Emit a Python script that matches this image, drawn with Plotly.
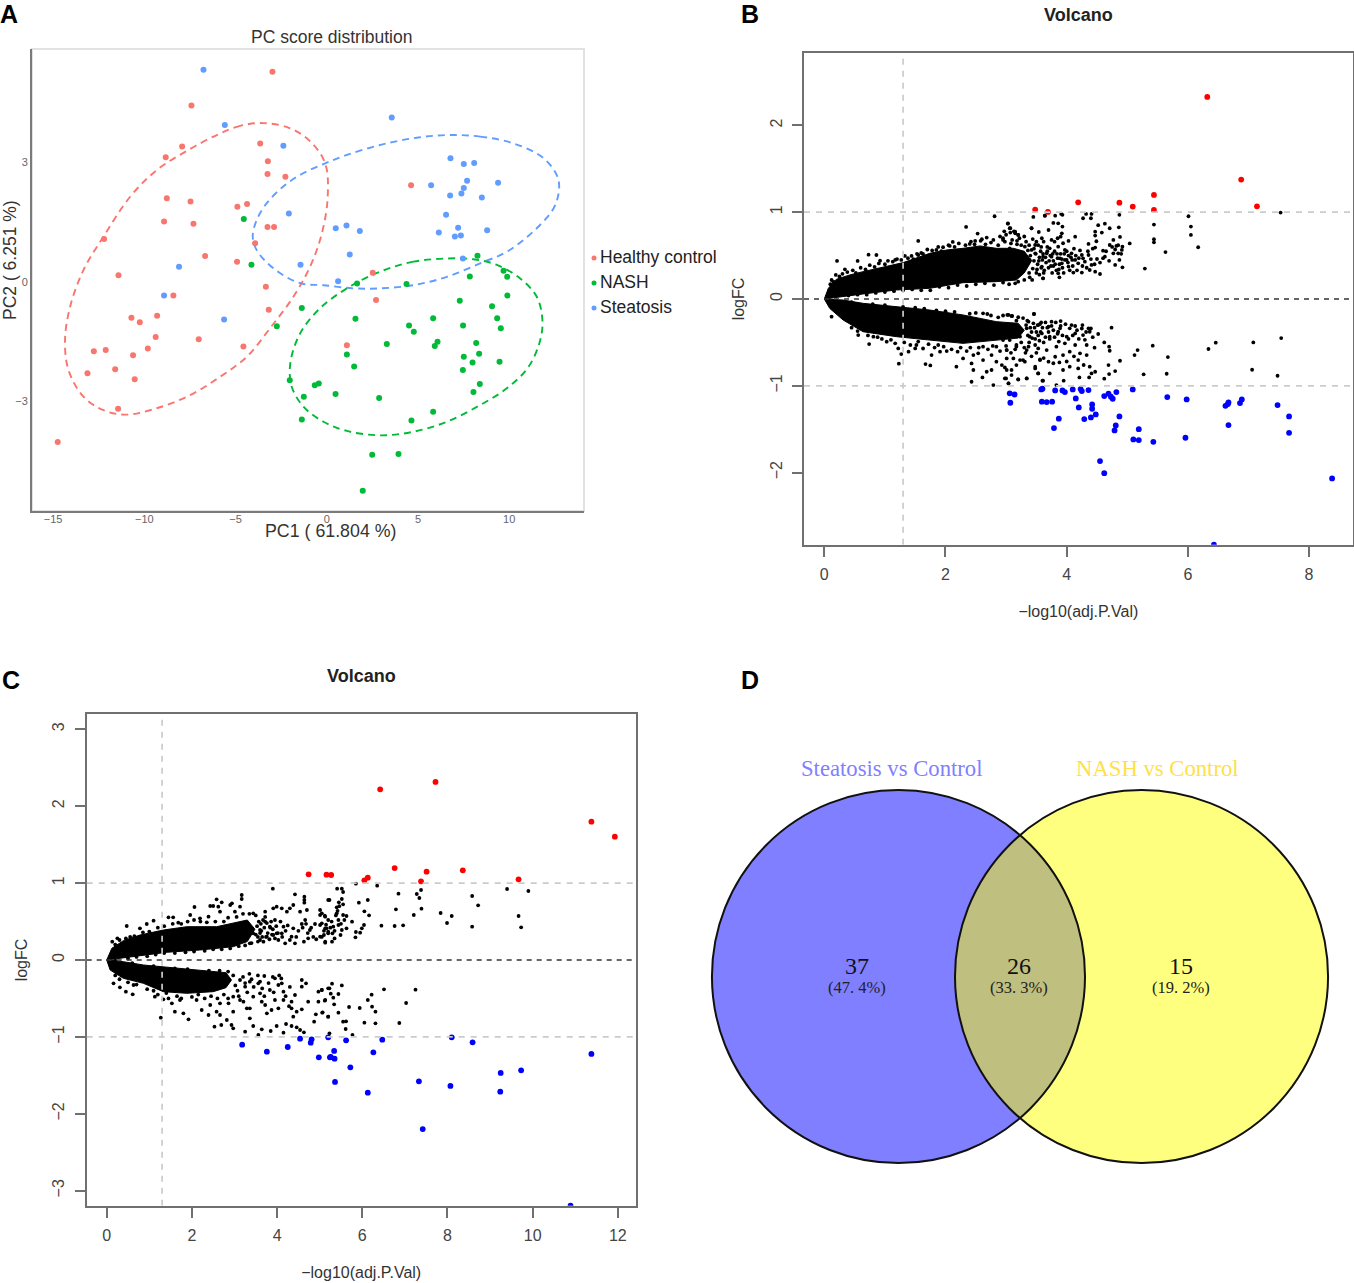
import plotly.graph_objects as go

W, H = 1354, 1283

# ---------- Panel A: PCA scores ----------
hc_x = [-2.98,-7.42,-7.93,-8.83,-3.65,-3.23,-3.25,-2.27,-8.77,-7.47,-8.92,-7.31,-4.90,-4.37,-3.25,-2.89,-3.93,-12.21,-6.67,-4.92,-11.42,-3.34,-8.41,-3.18,-9.30,-10.71,-10.25,-9.38,-7.02,-9.81,-4.57,-12.77,-12.12,-10.62,-11.60,-13.12,-10.53,-11.44,-14.75,4.62,2.52,2.70,1.10]
hc_y = [5.28,4.43,3.40,3.13,3.48,3.03,2.71,2.64,2.10,2.02,1.52,1.46,1.89,1.96,1.38,1.38,0.97,1.08,0.65,0.51,0.17,-0.12,-0.34,-0.70,-0.85,-0.90,-1.01,-1.38,-1.44,-1.67,-1.62,-1.74,-1.71,-1.84,-2.19,-2.29,-2.44,-3.18,-4.02,2.43,0.23,-0.45,-1.59]
nash_x = [-4.55,-4.13,-1.37,-2.74,-2.03,-1.26,-1.37,-0.66,-0.44,0.48,8.26,9.69,7.84,9.89,4.37,1.66,9.90,7.29,9.06,5.83,1.57,9.34,4.51,7.47,9.54,4.77,3.29,6.07,5.92,8.19,8.35,7.51,7.99,9.47,1.10,1.50,7.46,8.39,8.04,2.87,5.83,4.64,2.49,3.93,1.97]
nash_y = [1.58,0.43,-0.65,-1.11,-2.47,-2.88,-3.45,-2.59,-2.55,-2.81,0.66,0.28,0.14,0.13,-0.05,-0.04,-0.34,-0.47,-0.61,-0.91,-0.92,-0.91,-1.09,-1.09,-1.16,-1.25,-1.56,-1.50,-1.61,-1.53,-1.80,-1.88,-2.02,-2.00,-1.82,-2.12,-2.21,-2.56,-2.76,-2.91,-3.26,-3.48,-4.34,-4.32,-5.24]
ste_x = [-6.76,-5.59,-2.38,-2.08,0.49,-1.44,-8.10,-8.92,-5.63,0.62,3.56,6.78,7.51,8.08,7.69,9.39,5.72,7.51,7.38,6.76,8.50,6.54,1.08,1.81,7.20,8.79,6.14,7.02,7.35,1.26,7.46]
ste_y = [5.33,3.94,3.42,1.72,1.35,0.43,0.38,-0.34,-0.94,0.02,4.13,3.11,2.96,2.99,2.54,2.49,2.43,2.36,2.22,2.17,2.12,1.69,1.42,1.28,1.36,1.30,1.24,1.14,1.17,0.69,0.59]

hc_ell_x = [-3.47,-4.75,-6.03,-7.68,-9.32,-10.78,-12.24,-13.34,-14.07,-14.35,-14.16,-13.34,-12.24,-10.96,-9.32,-7.49,-5.85,-4.39,-3.11,-1.83,-0.91,-0.27,0.05,-0.09,-0.91,-2.01,-3.47]
hc_ell_y = [3.99,3.92,3.69,3.29,2.81,2.14,1.14,0.30,-0.62,-1.46,-2.21,-2.88,-3.22,-3.33,-3.17,-2.84,-2.38,-1.88,-1.16,-0.37,0.39,1.22,2.14,2.98,3.53,3.86,3.99]
ste_ell_x = [6.58,8.41,10.23,11.88,12.70,12.52,11.51,9.87,8.41,6.58,4.75,2.92,1.46,-0.18,-1.46,-2.92,-3.84,-4.06,-3.84,-3.29,-2.38,-1.46,-0.18,1.10,2.92,4.75,6.58]
ste_ell_y = [3.69,3.65,3.48,3.11,2.56,1.93,1.35,0.76,0.47,0.13,-0.08,-0.16,-0.16,-0.08,-0.03,0.34,0.80,1.14,1.56,1.98,2.40,2.69,2.96,3.19,3.44,3.61,3.69]
nash_ell_x = [6.58,4.75,2.92,1.10,-0.37,-1.46,-2.00,-1.92,-1.28,-0.18,1.10,2.92,4.75,6.58,8.41,9.87,11.06,11.70,11.82,11.51,10.60,9.32,8.04,6.58]
nash_ell_y = [0.59,0.51,0.26,-0.16,-0.66,-1.29,-2.04,-2.63,-3.13,-3.51,-3.74,-3.85,-3.76,-3.51,-3.09,-2.67,-2.13,-1.46,-0.95,-0.37,0.09,0.43,0.57,0.59]

pca_xticks = [-15,-10,-5,0,5,10]
pca_yticks = [-3,0,3]
group_names = ["Healthy control","NASH","Steatosis"]

# ---------- Panel B: volcano ----------
b_up_x = [0,.066,.20,.42,.64,.92,1.30,1.74,2.02,2.29,2.57,2.84,3.12,3.30,3.42,3.30,3.17,2.84,2.29,1.74,1.19,.64,.31,0]
b_up_y = [0,.123,.227,.277,.315,.361,.419,.526,.565,.584,.611,.584,.584,.55,.44,.30,.219,.20,.188,.123,.104,.058,.027,0]
b_dn_x = [0,.31,.64,1.19,1.74,2.29,2.84,3.20,3.30,3.20,2.84,2.29,1.74,1.19,.64,.31,.09,0]
b_dn_y = [0,-.012,-.05,-.088,-.127,-.184,-.261,-.28,-.36,-.45,-.473,-.511,-.473,-.434,-.377,-.242,-.108,0]
b_black_x = [3.45,3.64,3.81,3.91,3.93,4.32,4.27,4.41,4.40,4.87,4.86,4.88,5.04,5.44,5.44,5.44,5.63,5.29,6.01,6.05,6.05,6.17,7.53,3.03,3.42,3.54,3.70,3.78,3.86,3.93,3.92,3.90,3.06,3.07,3.15,3.20,3.22,3.59,3.75,4.03,4.14,4.52,4.63,4.71,4.47,4.47,4.58,4.49,4.77,4.36,4.71,4.82,4.92,4.47,4.60,4.77,4.85,4.91,4.63,4.50,4.87,4.80,4.92,4.41,4.38,4.55,4.47,4.25,4.11,3.86,3.88,3.61,3.15,3.39,3.59,3.78,3.92,4.00,4.08,4.27,4.19,3.97,3.86,3.72,3.61,3.48,3.67,3.75,3.94,4.25,4.36,4.14,3.89,4.03,3.48,3.39,3.28,3.17,3.06,2.95,2.98,3.31,3.42,
 2.81,3.42,3.64,2.34,3.03,3.07,3.15,3.20,2.53,2.68,1.55,2.12,2.49,2.40,2.60,2.79,2.95,.73,.86,.55,.21,.34,.19,.12,1.33,1.44,1.55,1.63,.92,1.17,1.85,1.96,2.07,3.61,
 .12,.56,.74,.81,1.03,1.22,1.27,1.23,1.39,1.50,1.52,1.67,1.75,1.77,1.91,1.97,2.18,2.20,2.29,2.43,2.46,2.43,2.54,2.62,2.61,2.68,2.76,2.79,2.84,2.93,3.01,2.98,3.04,3.09,3.20,3.34,3.48,3.53,3.61,3.17,3.28,3.12,3.01,2.76,2.46,2.62,2.84,3.01,3.17,3.34,3.48,3.56,3.46,3.04,3.10,2.62,2.69,2.87,3.17,3.37,3.56,
 3.02,3.09,3.46,3.75,3.90,4.14,4.26,4.36,4.52,4.74,4.62,4.70,4.71,4.46,5.17,5.12,5.42,5.67,5.27,5.65,6.34,6.46,7.08,7.06,7.54,7.48,4.88,4.80,4.69,4.70,4.62,4.47,4.38,4.41,4.37,4.21,4.19,4.19,4.33,4.05,3.94,3.95,3.83,3.60,3.72,3.48,3.53,3.34,3.20,3.00,3.04,3.09,2.98,3.23,3.31,3.56,3.70,3.81,3.94,4.05,4.22,4.33,4.14,3.97,3.83,3.67,3.53,3.37,3.17,3.01,2.95,3.06,3.23,3.39,3.59,3.72,3.86,4.00,4.14,4.27,4.38,3.12,3.34,3.53,3.70,3.89,4.05]
b_black_y = [.945,.96,.96,.98,.97,.98,.93,.98,.93,.97,.826,.715,.64,.857,.688,.653,.54,.35,.953,.834,.738,.596,.995,.868,.815,.772,.795,.876,.872,.834,.757,.718,.815,.765,.776,.738,.70,.70,.68,.669,.718,.85,.868,.815,.776,.73,.765,.665,.68,.634,.622,.611,.603,.592,.557,.526,.526,.565,.488,.461,.45,.392,.365,.392,.334,.288,.315,.304,.304,.296,.25,.238,.18,.25,.373,.38,.411,.45,.526,.469,.411,.565,.603,.584,.488,.622,.526,.488,.642,.507,.507,.45,.469,.373,.526,.45,.411,.488,.584,.68,.526,.603,.565,
 .953,.815,.96,.83,.872,.815,.757,.738,.753,.707,.669,.657,.669,.634,.688,.68,.70,.511,.507,.438,.438,.342,.277,.219,.496,.496,.507,.519,.442,.45,.565,.596,.611,.238,
 -.204,-.415,-.519,-.434,-.492,-.569,-.634,-.745,-.607,-.569,-.53,-.749,-.765,-.646,-.607,-.549,-.78,-.607,-.684,-.953,-.818,-.742,-.626,-.703,-.903,-.838,-.818,-.991,-.722,-.761,-.818,-.915,-.972,-.876,-.926,-.915,-.78,-.857,-.941,-.761,-.703,-.684,-.684,-.646,-.646,-.549,-.549,-.588,-.53,-.588,-.53,-.703,-.173,-.184,-.196,-.165,-.173,-.211,-.25,-.261,-.288,
 -.184,-.196,-.173,-.261,-.254,-.311,-.30,-.338,-.403,-.33,-.50,-.549,-.596,-.561,-.588,-.646,-.538,-.669,-.868,-.861,-.576,-.503,-.50,-.815,-.45,-.884,-.711,-.83,-.761,-.865,-.918,-.838,-.78,-.857,-.903,-.903,-.80,-.703,-.646,-.78,-.818,-.941,-.991,-.941,-.857,-.80,-.857,-.915,-.926,-.915,-.972,-.818,-.788,-.703,-.722,-.696,-.722,-.665,-.646,-.607,-.626,-.53,-.53,-.511,-.549,-.588,-.569,-.549,-.549,-.588,-.473,-.473,-.434,-.434,-.396,-.434,-.377,-.434,-.396,-.415,-.377,-.319,-.338,-.30,-.319,-.338,-.338]
b_fringe = [(.1,.17),(.15,.2),(.25,.26),(.3,.29),(.38,.31),(.47,.33),(.52,.30),(.6,.36),(.68,.34),(.75,.39),(.83,.37),(.9,.41),(1.0,.40),(1.05,.44),(1.13,.43),(1.2,.46),(1.27,.45),(1.38,.47),(1.47,.46),(1.53,.52),(1.6,.53),(1.7,.57),(1.78,.56),(1.88,.60),(1.93,.55),(2.05,.62),(2.15,.60),(2.22,.64),(2.33,.62),(2.42,.66),(2.48,.63),(2.58,.67),(2.66,.63),(2.75,.65),(2.87,.62),(2.98,.66),(3.08,.64),(3.18,.63),
 (.4,.04),(.55,.05),(.7,.05),(.85,.07),(1.0,.08),(1.15,.09),(1.3,.10),(1.45,.11),(1.6,.10),(1.75,.10),(1.9,.14),(2.05,.13),(2.2,.16),(2.35,.15),(2.5,.17),(2.65,.18),(2.8,.16),(2.95,.19),(3.05,.17),(3.2,.2),(3.3,.22),(3.43,.22),(3.55,.28),(3.62,.30),
 (3.5,.3),(3.52,.4),(3.55,.48),(3.57,.55),(3.6,.45),(3.63,.33),(3.66,.42),(3.7,.36),(3.73,.5),(3.76,.3),(3.78,.44),(3.8,.55),(3.83,.33),(3.85,.47),(3.88,.4),(3.9,.52),(3.93,.36),(3.95,.3),(3.97,.45),(4.0,.55),(4.02,.42),(4.05,.33),(4.07,.48),(4.1,.38),(4.12,.58),(4.15,.5),(4.17,.33),(4.2,.47),(4.22,.56),(4.26,.38),(4.3,.43),(4.33,.36),(4.35,.55),(4.4,.46),(4.43,.58),(4.46,.40),(4.55,.42),(4.6,.47),(4.65,.55),(4.7,.44),(4.75,.6),(4.8,.57),(4.85,.62),(4.9,.52),
 (2.9,.72),(2.97,.78),(3.0,.74),(3.1,.68),(3.13,.78),(3.18,.67),(3.25,.62),(3.3,.72),(3.33,.66),(3.38,.62),(3.44,.69),(3.5,.66),(3.53,.62),(3.58,.6),(3.62,.66),(3.68,.6),(3.8,.66),(3.85,.7),(3.4,.5),(3.44,.35),(3.46,.58),(3.36,.56),(3.38,.30),
 (3.46,.44),(3.49,.52),(3.51,.34),(3.54,.44),(3.58,.36),(3.61,.52),(3.65,.48),(3.68,.55),(3.71,.44),(3.74,.38),(3.77,.52),(3.81,.4),(3.84,.52),(3.87,.34),(3.92,.46),(3.96,.52),(4.03,.5),(4.09,.45),
 (.2,-.02),(.45,-.035),(.8,-.06),(1.0,-.07),(1.3,-.09),(1.5,-.10),(1.65,-.11),(1.85,-.13),(2.0,-.14),(2.15,-.15),(2.4,-.17),(2.5,-.16),(2.75,-.19),(2.95,-.19),(3.2,-.21),(3.28,-.22),
 (.45,-.33),(.55,-.37),(.72,-.42),(.88,-.44),(.95,-.46),(1.1,-.47),(1.17,-.51),(1.32,-.50),(1.42,-.53),(1.55,-.49),(1.63,-.57),(1.72,-.52),(1.82,-.56),(1.88,-.53),(2.02,-.60),(2.1,-.58),(2.25,-.56),(2.35,-.60),(2.41,-.56),(2.55,-.56),(2.7,-.58),(2.78,-.54),(2.9,-.6),(3.0,-.54),(3.08,-.62),(3.15,-.58),(3.25,-.5),(3.3,-.56),
 (3.35,-.25),(3.4,-.33),(3.43,-.45),(3.45,-.28),(3.5,-.38),(3.55,-.48),(3.6,-.33),(3.65,-.27),(3.65,-.44),(3.7,-.38),(3.75,-.31),(3.8,-.44),(3.82,-.27),(3.87,-.49),(3.9,-.31),(3.93,-.42),(3.98,-.29),(4.03,-.46),(4.08,-.3),(4.1,-.42),(4.17,-.36),(4.2,-.46),(4.25,-.34),(4.3,-.47),(4.32,-.38),(4.4,-.34),(4.43,-.44),(3.32,-.62),(3.42,-.66),(3.5,-.62),(3.62,-.68),(3.78,-.74),(3.88,-.73),(4.0,-.72),(4.12,-.66),(4.28,-.76),
 (3.33,-.3),(3.36,-.42),(3.38,-.5),(3.42,-.38),(3.47,-.33),(3.48,-.46),(3.52,-.3),(3.53,-.42),(3.57,-.38),(3.58,-.27),(3.62,-.5),(3.68,-.33),(3.72,-.46),(3.78,-.36),(3.85,-.4)]
b_red_x = [3.48,3.69,4.19,4.87,5.09,5.44,5.44,6.32,6.88,7.14]
b_red_y = [1.03,1.003,1.114,1.11,1.064,1.199,1.026,2.328,1.376,1.068]
b_blue_x = [3.06,3.14,3.07,3.58,3.60,3.59,3.67,3.76,3.81,3.93,3.97,4.10,4.23,4.25,4.36,4.15,4.20,4.42,4.42,4.40,4.48,4.29,3.87,3.79,4.62,4.69,4.73,4.76,4.82,5.09,4.87,4.81,4.79,5.19,5.10,5.19,5.43,5.66,5.98,5.96,4.55,4.62,6.62,6.66,6.67,6.67,6.86,6.89,7.48,7.67,7.67,8.38,6.43]
b_blue_y = [-1.087,-1.10,-1.195,-1.041,-1.034,-1.183,-1.187,-1.183,-1.053,-1.053,-1.072,-1.041,-1.037,-1.061,-1.049,-1.145,-1.249,-1.214,-1.264,-1.364,-1.33,-1.383,-1.379,-1.487,-1.118,-1.091,-1.126,-1.149,-1.072,-1.041,-1.353,-1.456,-1.514,-1.499,-1.618,-1.625,-1.645,-1.13,-1.157,-1.598,-1.867,-2.006,-1.23,-1.21,-1.191,-1.452,-1.199,-1.157,-1.222,-1.353,-1.541,-2.067,-2.83]

# ---------- Panel C: volcano ----------
c_up_x = [0,.12,.39,.78,1.33,1.88,2.58,2.97,3.30,3.48,3.30,2.97,2.19,1.41,.78,.39,0]
c_up_y = [0,.152,.251,.325,.39,.433,.433,.477,.52,.40,.24,.173,.13,.10,.052,.022,0]
c_dn_x = [0,.39,.86,1.41,2.19,2.80,2.93,2.80,2.50,1.88,1.33,.86,.39,.08,0]
c_dn_y = [0,-.022,-.065,-.095,-.13,-.165,-.26,-.36,-.412,-.433,-.412,-.303,-.238,-.13,0]
c_black_x = [3.90,4.42,4.64,4.64,4.64,3.17,3.17,2.58,2.70,2.94,2.90,2.06,2.43,2.50,2.62,2.66,3.13,3.01,1.96,2.19,2.39,1.10,.94,.78,.47,.25,.13,1.45,1.56,1.68,5.20,5.01,5.05,5.13,3.99,3.91,4.11,4.23,4.38,4.30,4.54,4.70,3.72,3.44,4.66,4.58,4.38,4.34,4.77,4.89,5.01,5.13,5.20,4.63,4.73,5.13,5.20,4.19,4.03,3.91,3.76,3.60,3.83,3.95,4.15,4.11,3.72,3.60,3.44,3.36,4.42,3.68,3.99,
 5.85,6.35,5.41,5.52,5.55,6.85,7.28,7.38,7.34,7.39,7.21,6.13,5.92,5.23,5.52,5.45,5.55,5.40,6.05,6.16,6.79,7.84,8.10,7.99,8.58,8.58,8.72,9.40,9.90,9.67,9.73,6.45,6.76,6.96,6.04,5.99,5.95,5.85,5.84,5.76,5.63,5.63,5.52,5.49,5.40,5.55,5.44,5.44,5.32,5.16,5.30,5.29,5.13,5.10,5.01,5.20,5.05,5.01,5.12,
 .16,.31,.45,.61,.63,1.13,1.27,1.33,1.53,1.60,1.80,1.92,1.72,2.11,2.23,2.39,2.58,2.66,2.53,2.69,2.82,2.93,2.97,3.25,3.44,3.36,3.29,3.13,2.97,2.86,2.66,2.43,3.56,3.64,3.85,3.99,4.15,4.21,4.34,4.46,4.54,4.63,4.87,4.91,5.07,5.20,3.70,3.95,4.11,4.58,4.68,4.58,4.42,4.34,4.34,4.46,4.58,4.38,4.73,4.97,5.05,4.97,5.13,5.20,3.13,3.25,3.36,3.56,3.60,3.72,3.76,3.87,4.03,4.15,4.15,4.03,3.83,3.44,2.97,3.21,3.36,3.95,3.64,
 5.29,5.52,5.23,5.05,5.26,5.44,5.32,5.12,5.34,5.06,5.20,5.44,5.69,5.94,6.13,6.22,6.23,6.31,6.51,7.25,7.03,6.87,6.31,6.05,5.55,5.62,5.61,5.77,5.23]
c_black_y = [.928,.854,.824,.78,.746,.845,.793,.789,.75,.737,.715,.689,.702,.702,.694,.629,.694,.629,.585,.542,.563,.511,.468,.412,.442,.282,.238,.555,.555,.485,.78,.65,.607,.563,.694,.672,.672,.629,.715,.672,.629,.65,.629,.607,.52,.468,.412,.303,.39,.468,.455,.412,.52,.238,.282,.238,.347,.217,.26,.325,.303,.26,.433,.52,.433,.347,.498,.39,.347,.217,.217,.238,.347,
 .993,.967,.928,.928,.884,.863,.858,.91,.806,.668,.585,.78,.746,.78,.793,.75,.724,.685,.633,.581,.659,.611,.572,.481,.433,.832,.711,.923,.897,.572,.425,.446,.442,.451,.455,.412,.355,.364,.295,.498,.572,.412,.39,.325,.607,.585,.52,.455,.433,.412,.347,.238,.225,.325,.303,.368,.477,.585,.577,
 -.303,-.355,-.412,-.446,-.325,-.477,-.75,-.511,-.563,-.672,-.694,-.772,-.52,-.52,-.65,-.715,-.672,-.715,-.867,-.845,-.78,-.845,-.889,-.932,-.858,-.759,-.629,-.52,-.672,-.563,-.563,-.585,-.975,-.902,-.923,-.858,-.945,-.832,-.858,-.876,-.91,-.941,-.802,-.707,-.681,-.737,-.208,-.238,-.303,-.26,-.303,-.347,-.455,-.542,-.629,-.672,-.642,-.737,-.542,-.412,-.39,-.542,-.52,-.368,-.26,-.347,-.282,-.303,-.433,-.585,-.694,-.65,-.629,-.52,-.412,-.325,-.39,-.477,-.477,-.542,-.629,-.52,-.542,
 -.308,-.33,-.368,-.39,-.438,-.442,-.49,-.529,-.577,-.685,-.737,-.685,-.611,-.624,-.52,-.451,-.607,-.672,-.381,-.386,-.559,-.819,-.824,-.815,-.802,-.798,-.897,-.975,-.954]
c_fringe = [(.2,.2),(.3,.26),(.45,.28),(.55,.3),(.65,.31),(.85,.36),(1.0,.37),(1.2,.42),(1.35,.44),(1.55,.47),(1.75,.47),(1.9,.5),(2.05,.52),(2.2,.5),(2.35,.49),(2.55,.5),(2.75,.5),(2.85,.55),(3.05,.56),(3.2,.6),(3.35,.6),(3.5,.58),
 (.5,.02),(.7,.04),(.95,.05),(1.15,.07),(1.35,.09),(1.6,.09),(1.85,.1),(2.05,.11),(2.3,.12),(2.5,.14),(2.7,.14),(2.9,.15),(3.1,.18),(3.25,.19),(3.4,.22),(3.55,.24),
 (3.55,.3),(3.6,.35),(3.62,.47),(3.65,.3),(3.7,.42),(3.72,.56),(3.78,.35),(3.82,.27),(3.86,.5),(3.9,.4),(3.95,.28),(3.98,.44),(4.02,.35),(4.08,.5),(4.12,.3),(4.2,.38),(4.25,.45),(4.3,.26),(4.45,.3),(4.5,.38),(4.6,.42),(4.68,.47),(4.72,.35),(4.8,.42),(4.85,.3),(4.92,.27),(5.05,.3),(5.1,.38),(5.15,.46),(5.25,.42),(5.28,.5),(5.35,.38),(5.38,.58),(5.42,.64),(5.46,.7),(5.5,.47),(5.58,.52),(5.35,.28),
 (3.5,.33),(3.53,.44),(3.57,.5),(3.63,.38),(3.67,.52),(3.74,.3),(3.76,.48),(3.84,.42),(3.88,.33),
 (.2,-.01),(.6,-.04),(1.1,-.08),(1.6,-.11),(1.9,-.12),(2.4,-.14),(2.65,-.14),(2.85,-.15),
 (.2,-.2),(.3,-.25),(.5,-.29),(.7,-.32),(.95,-.38),(1.1,-.40),(1.2,-.45),(1.4,-.43),(1.45,-.5),(1.65,-.47),(1.75,-.5),(2.0,-.48),(2.15,-.45),(2.3,-.5),(2.45,-.47),(2.6,-.5),(2.75,-.45),(2.85,-.5),
 (2.97,-.2),(3.02,-.33),(3.07,-.4),(3.1,-.47),(3.2,-.22),(3.25,-.3),(3.3,-.42),(3.35,-.18),(3.4,-.25),(3.45,-.35),(3.55,-.2),(3.6,-.28),(3.65,-.37),(3.7,-.47),(3.8,-.3),(3.9,-.22),(3.92,-.42),(4.05,-.2),(4.1,-.24),(4.2,-.47),(4.28,-.6),(4.3,-.35)]
c_red_x = [4.74,5.16,5.27,6.05,6.13,6.76,7.51,7.38,8.36,9.67,6.42,7.72,11.38,11.93]
c_red_y = [1.114,1.11,1.105,1.036,1.071,1.196,1.149,1.023,1.166,1.049,2.219,2.315,1.799,1.604]
c_blue_x = [3.18,3.76,4.25,4.54,4.81,4.79,5.20,4.98,5.24,5.34,5.26,5.35,5.62,5.72,5.36,6.26,6.47,6.13,7.33,7.42,8.10,8.07,8.59,9.25,9.24,9.73,11.38,10.89]
c_blue_y = [-1.101,-1.192,-1.131,-1.023,-1.032,-1.075,-1.006,-1.266,-1.266,-1.183,-1.261,-1.283,-1.045,-1.396,-1.586,-1.201,-1.036,-1.725,-1.578,-2.198,-1.006,-1.638,-1.071,-1.469,-1.712,-1.435,-1.222,-3.195]

# ---------- Panel D: Venn ----------
venn_names = ["Steatosis vs Control","NASH vs Control"]
venn_counts = ["37","26","15"]
venn_shares = ["(47. 4%)","(33. 3%)","(19. 2%)"]

def dx(a, b): return [a / W, b / W]
def dy(top, bottom): return [1 - bottom / H, 1 - top / H]

fig = go.Figure()
SANS = "Liberation Sans"
SERIF = "Liberation Serif"
COL = {"hc":"#F8766D","nash":"#00BA38","ste":"#619CFF"}

def pts(x, y, color, size, xa, ya, name):
    fig.add_trace(go.Scatter(x=x, y=y, mode="markers", name=name, showlegend=False, xaxis=xa, yaxis=ya,
                             marker=dict(color=color, size=size, line=dict(width=0))))

def ell(x, y, color, name):
    fig.add_trace(go.Scatter(x=x, y=y, mode="lines", name=name, showlegend=False, xaxis="x", yaxis="y",
                             line=dict(color=color, width=1.9, dash="7px,5px", shape="spline", smoothing=1.0)))

def band(x, y, xa, ya):
    fig.add_trace(go.Scatter(x=x, y=y, mode="lines", fill="toself", fillcolor="black", showlegend=False,
                             line=dict(color="black", width=1), xaxis=xa, yaxis=ya, hoverinfo="skip"))

ell(hc_ell_x, hc_ell_y, COL["hc"], "Healthy control ellipse")
ell(ste_ell_x, ste_ell_y, COL["ste"], "Steatosis ellipse")
ell(nash_ell_x, nash_ell_y, COL["nash"], "NASH ellipse")
pts(hc_x, hc_y, COL["hc"], 6, "x", "y", group_names[0])
pts(nash_x, nash_y, COL["nash"], 6, "x", "y", group_names[1])
pts(ste_x, ste_y, COL["ste"], 6, "x", "y", group_names[2])

band(b_up_x, b_up_y, "x2", "y2")
band(b_dn_x, b_dn_y, "x2", "y2")
pts(b_black_x + [p[0] for p in b_fringe], b_black_y + [p[1] for p in b_fringe], "black", 3.8, "x2", "y2", "not significant")
pts(b_red_x, b_red_y, "#FF0000", 5.8, "x2", "y2", "up")
pts(b_blue_x, b_blue_y, "#0000FF", 5.8, "x2", "y2", "down")

band(c_up_x, c_up_y, "x3", "y3")
band(c_dn_x, c_dn_y, "x3", "y3")
pts(c_black_x + [p[0] for p in c_fringe], c_black_y + [p[1] for p in c_fringe], "black", 3.8, "x3", "y3", "not significant")
pts(c_red_x, c_red_y, "#FF0000", 5.8, "x3", "y3", "up")
pts(c_blue_x, c_blue_y, "#0000FF", 5.8, "x3", "y3", "down")

frame = "#707070"
tickfont_v = dict(family=SANS, size=16, color="#444444")
titlefont_v = dict(family=SANS, size=16, color="#333333")
def volcano_x(dom, rng, ticks, anchor):
    return dict(domain=dom, range=rng, tickvals=ticks, ticks="outside", ticklen=10, tickwidth=1.6, tickcolor=frame,
                showline=True, linecolor=frame, linewidth=2, mirror=True, showgrid=False, zeroline=False,
                tickfont=tickfont_v, ticklabelstandoff=4, anchor=anchor,
                title=dict(text="−log10(adj.P.Val)", font=titlefont_v, standoff=24))
def volcano_y(dom, rng, ticks, anchor):
    return dict(domain=dom, range=rng, tickvals=ticks, ticks="outside", ticklen=10, tickwidth=1.6, tickcolor=frame,
                showline=True, linecolor=frame, linewidth=2, mirror=True, showgrid=False, zeroline=False,
                tickfont=tickfont_v, tickangle=-90, ticklabelstandoff=4, anchor=anchor,
                title=dict(text="logFC", font=titlefont_v, standoff=19))

shapes = []
# panel A outer frame (light top/right edge)
shapes.append(dict(type="rect", xref="paper", yref="paper", x0=32/W, x1=584/W, y0=1-511/H, y1=1-49/H,
                   line=dict(color="#e2e2e2", width=2), layer="below"))
grey = dict(color="#cbcbcb", width=1.7, dash="6px,6px")
dark = dict(color="#333333", width=1.7, dash="5px,5px")
for xa, ya, xm, xl, ymin, ymax in [("x2","y2",8.72,-0.335,-2.83,2.83),("x3","y3",12.42,-0.47,-3.195,3.195)]:
    shapes.append(dict(type="line", xref=xa, yref=ya, x0=1.3, x1=1.3, y0=ymin, y1=ymax, line=grey))
    for v in (1, -1):
        shapes.append(dict(type="line", xref=xa, yref=ya, x0=xl, x1=xm, y0=v, y1=v, line=grey))
    shapes.append(dict(type="line", xref=xa, yref=ya, x0=xl, x1=xm, y0=0, y1=0, line=dark))
# Venn circles (unit radius): fills first, then outlines on top
venn_circles = [(-1, 1, "rgba(0,0,255,0.5)"), (0.303, 2.303, "rgba(255,255,0,0.5)")]
for x0, x1, c in venn_circles:
    shapes.append(dict(type="circle", xref="x4", yref="y4", x0=x0, x1=x1, y0=-1, y1=1, fillcolor=c, line=dict(width=0)))
for x0, x1, c in venn_circles:
    shapes.append(dict(type="circle", xref="x4", yref="y4", x0=x0, x1=x1, y0=-1, y1=1,
                       fillcolor="rgba(0,0,0,0)", line=dict(color="#111111", width=2)))
# panel A key dots
for i, c in enumerate([COL["hc"], COL["nash"], COL["ste"]]):
    py = 258 + 25 * i
    shapes.append(dict(type="circle", xref="paper", yref="paper", x0=591.5/W, x1=596.5/W,
                       y0=1-(py+2.5)/H, y1=1-(py-2.5)/H, fillcolor=c, line=dict(width=0)))

ann = []
def label(px, py, text, size, color="black", family=SANS, bold=False, anchor="center", angle=0):
    ann.append(dict(xref="paper", yref="paper", x=px/W, y=1-py/H, text=f"<b>{text}</b>" if bold else text,
                    showarrow=False, xanchor=anchor, yanchor="middle", textangle=angle,
                    font=dict(family=family, size=size, color=color)))
for t, x, y in [("A",9,14),("B",750,14),("C",11,680),("D",750,680)]:
    label(x, y, t, 25, bold=True)
label(331, 37, "PC score distribution", 17.5, color="#333333")
label(330, 531, "PC1 ( 61.804 %)", 17.8, color="#333333")
label(10, 260, "PC2 ( 6.251 %)", 17.5, color="#333333", angle=-90)
label(1078, 15, "Volcano", 18, color="#222222", bold=True)
label(361, 676, "Volcano", 18, color="#222222", bold=True)
for i, n in enumerate(group_names):
    label(598, 257 + 25 * i, n, 17.5, color="#222222", anchor="left")
label(892, 768, venn_names[0], 22.7, color="#8080FF", family=SERIF)
label(1157.5, 768, venn_names[1], 22.7, color="#FFE04A", family=SERIF)
for px, c, s in zip([857, 1019, 1181], venn_counts, venn_shares):
    label(px, 966, c, 24, color="#111111", family=SERIF)
    label(px, 987, s, 16.5, color="#222222", family=SERIF)

fig.update_layout(
    width=W, height=H, autosize=False, margin=dict(l=0, r=0, t=0, b=0),
    paper_bgcolor="white", plot_bgcolor="white", showlegend=False, shapes=shapes, annotations=ann,
    xaxis=dict(domain=dx(32,584), range=[-16.16,14.1], tickvals=pca_xticks, ticks="", showline=True, linecolor="#7a7a7a",
               linewidth=2, showgrid=False, zeroline=False, tickfont=dict(family=SANS, size=11, color="#666666"), anchor="y",
               ticklabelstandoff=-3),
    yaxis=dict(domain=dy(49,511), range=[-5.75,5.85], tickvals=pca_yticks, ticks="", showline=True, linecolor="#7a7a7a",
               linewidth=2, showgrid=False, zeroline=False, tickfont=dict(family=SANS, size=11, color="#666666"), anchor="x"),
    xaxis2=volcano_x(dx(804,1352.7), [-0.335,8.72], [0,2,4,6,8], "y2"),
    yaxis2=volcano_y(dy(53.3,544.7), [-2.83,2.83], [-2,-1,0,1,2], "x2"),
    xaxis3=volcano_x(dx(86.7,635.7), [-0.47,12.42], [0,2,4,6,8,10,12], "y3"),
    yaxis3=volcano_y(dy(714.3,1205.7), [-3.195,3.195], [-3,-2,-1,0,1,2,3], "x3"),
    xaxis4=dict(domain=dx(700,1340), range=[-1.064,2.367], visible=False, anchor="y4"),
    yaxis4=dict(domain=dy(780,1175), range=[-1.064,1.054], visible=False, anchor="x4"),
)
# an invisible trace keeps the Venn axes live
fig.add_trace(go.Scatter(x=[-1,2.303], y=[-1,1], mode="markers", marker=dict(opacity=0), xaxis="x4", yaxis="y4",
                         showlegend=False, hoverinfo="skip"))
fig.write_html("out.html", config={"displayModeBar": False}, post_script="document.body.style.margin='0';")
